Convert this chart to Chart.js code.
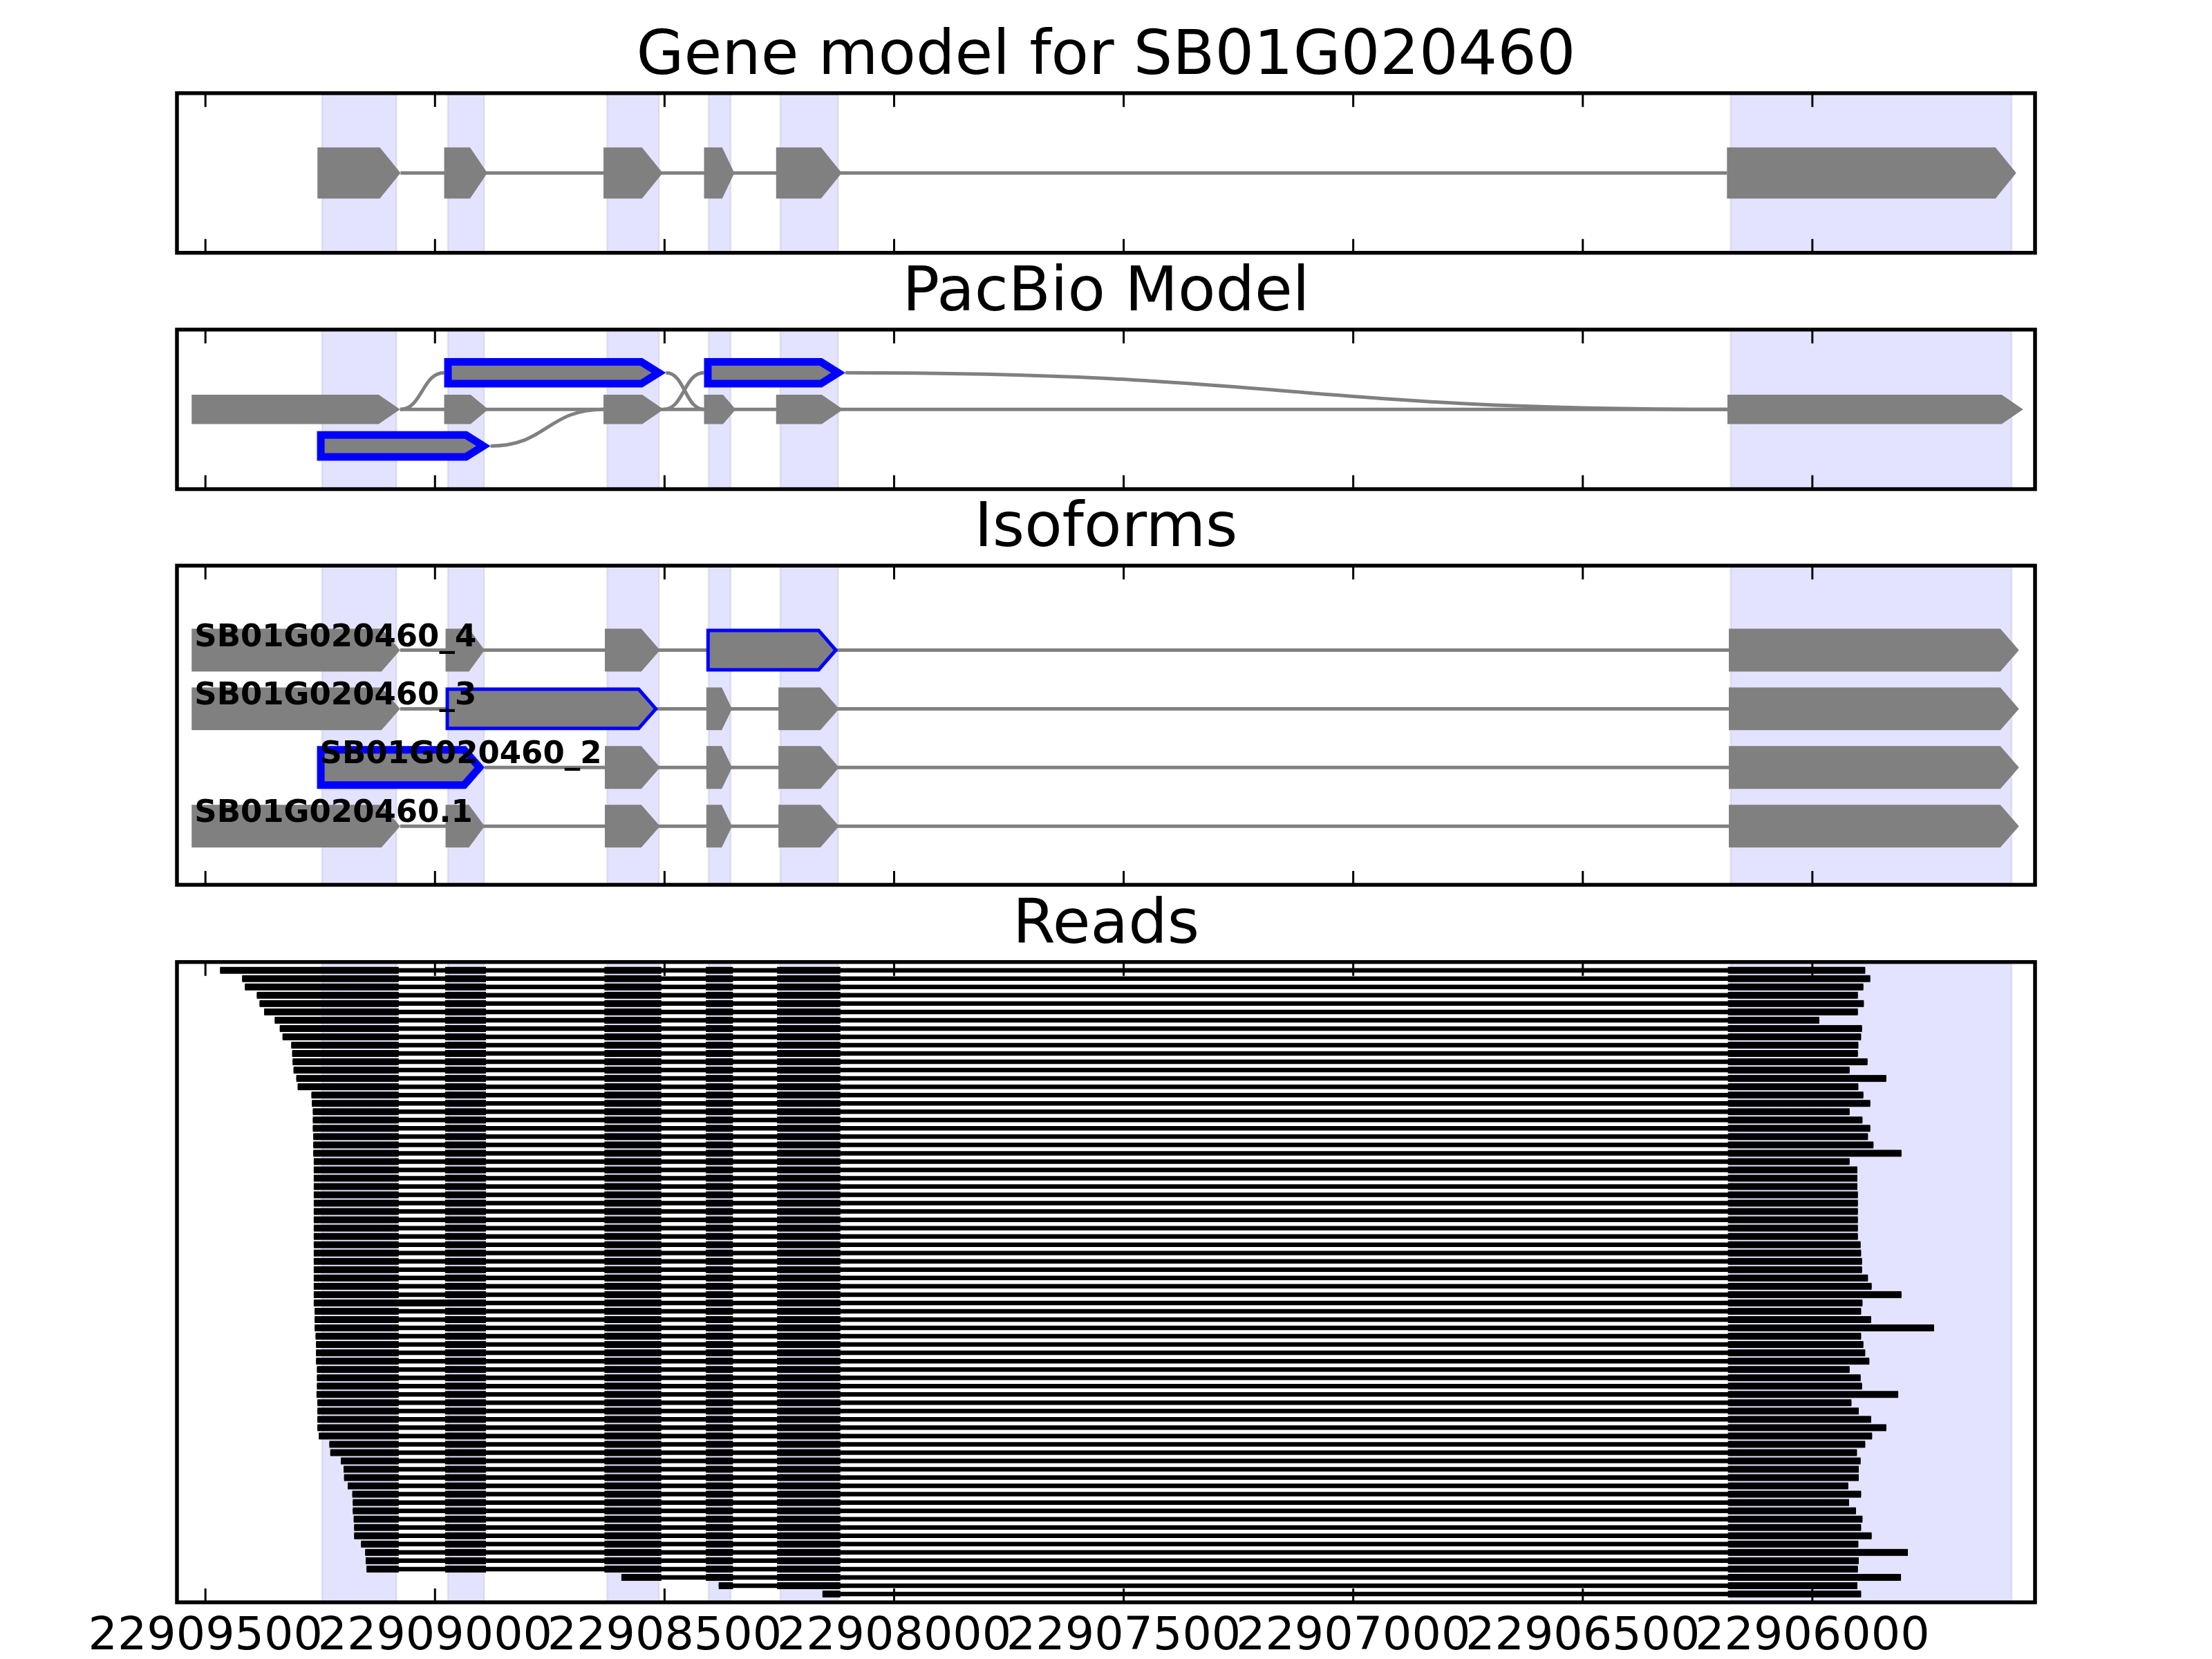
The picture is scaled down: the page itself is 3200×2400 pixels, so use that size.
<!DOCTYPE html>
<html>
<head>
<meta charset="utf-8">
<script src="https://cdn.jsdelivr.net/npm/chart.js@4.4.0/dist/chart.umd.min.js"></script>
<style>
  html, body { margin: 0; padding: 0; background: #fff; }
  #wrap { position: relative; width: 3200px; height: 2400px; }
  #wrap canvas { position: absolute; left: 0; top: 0; }
</style>
</head>
<body>
<div id="wrap">
  <canvas id="gene" width="3200" height="2400"></canvas>
  <canvas id="pacbio" width="3200" height="2400"></canvas>
  <canvas id="iso" width="3200" height="2400"></canvas>
  <canvas id="reads" width="3200" height="2400"></canvas>
</div>
<script>
// genomic window (minus strand, so the axis runs right to left)
const xMin = 22905515;
const xMax = 22909562;
const tickValues = [22909500, 22909000, 22908500, 22908000, 22907500, 22907000, 22906500, 22906000];

// exons of the reference gene, used for the shaded columns
const exonBands = [[22909246, 22909084], [22908972, 22908893], [22908625, 22908512],
                   [22908404, 22908356], [22908248, 22908122], [22906178, 22905566]];

// gene model
const geneExons = [[22909256, 22909075], [22908980, 22908886], [22908633, 22908504],
                   [22908414, 22908348], [22908257, 22908114], [22906186, 22905556]];

// PacBio model, rows: 1 top, 0 middle, -1 bottom
const pbMiddle = [[22909530, 22909076], [22908980, 22908884], [22908633, 22908502],
                  [22908414, 22908345], [22908257, 22908111], [22906185, 22905541]];
const pbTop = [[22908980, 22908497], [22908414, 22908106]];
const pbBottom = [[22909257, 22908879]];
// joins between rows: from bp, from row, to bp, to row
const pbJoins = [
  [22909076, 0, 22908980, 1],
  [22908497, 1, 22908414, 0],
  [22908502, 0, 22908414, 1],
  [22908879, -1, 22908633, 0],
  [22908106, 1, 22906185, 0]
];

// isoforms
const isoNames = ['SB01G020460_4', 'SB01G020460_3', 'SB01G020460_2', 'SB01G020460.1'];
const isoRows = [4, 3, 2, 1];
const isoExons = [
  [[22909530, 22909076], [22908977, 22908892], [22908630, 22908510], [22908409, 22908122], [22906182, 22905550]],
  [[22909530, 22909076], [22908977, 22908514], [22908409, 22908353], [22908252, 22908120], [22906182, 22905550]],
  [[22909257, 22908892], [22908630, 22908510], [22908409, 22908353], [22908252, 22908120], [22906182, 22905550]],
  [[22909530, 22909076], [22908977, 22908892], [22908630, 22908510], [22908409, 22908353], [22908252, 22908120], [22906182, 22905550]]
];
const isoNovel = [3, 1, 0, -1];      // exon drawn with a blue outline
const isoNovelWidth = [5, 5, 11, 0];

// reads: exon blocks, then start / end of every read, top to bottom
const readExons = [[22909246, 22909079], [22908978, 22908889], [22908631, 22908507],
                   [22908410, 22908351], [22908255, 22908117], [22906184, 22905566]];
const readStarts = [
  22909468, 22909420, 22909414, 22909388, 22909382, 22909372, 22909349, 22909338, 22909332, 22909313,
  22909311, 22909310, 22909308, 22909302, 22909299, 22909269, 22909268, 22909266, 22909266, 22909266,
  22909265, 22909265, 22909265, 22909264, 22909264, 22909264, 22909264, 22909264, 22909264, 22909264,
  22909264, 22909264, 22909264, 22909264, 22909264, 22909264, 22909264, 22909264, 22909264, 22909264,
  22909264, 22909262, 22909262, 22909262, 22909260, 22909259, 22909259, 22909259, 22909257, 22909257,
  22909257, 22909258, 22909256, 22909256, 22909256, 22909256, 22909253, 22909230, 22909228, 22909205,
  22909199, 22909198, 22909190, 22909180, 22909179, 22909179, 22909177, 22909176, 22909176, 22909161,
  22909152, 22909151, 22909149, 22908594, 22908382, 22908156
];
const readEnds = [
  22905885, 22905874, 22905889, 22905901, 22905888, 22905901, 22905985, 22905892, 22905894, 22905900,
  22905901, 22905880, 22905919, 22905839, 22905900, 22905889, 22905874, 22905919, 22905891, 22905874,
  22905879, 22905867, 22905806, 22905919, 22905902, 22905902, 22905902, 22905901, 22905901, 22905901,
  22905901, 22905901, 22905901, 22905895, 22905894, 22905892, 22905892, 22905879, 22905871, 22905806,
  22905891, 22905894, 22905872, 22905735, 22905894, 22905889, 22905885, 22905876, 22905919, 22905895,
  22905892, 22905813, 22905915, 22905899, 22905872, 22905839, 22905870, 22905885, 22905903, 22905895,
  22905899, 22905899, 22905922, 22905894, 22905920, 22905905, 22905891, 22905894, 22905871, 22905900,
  22905792, 22905899, 22905901, 22905807, 22905902, 22905894
];
const retainedRows = [41];      // reads keeping an intron
const retainedIntron = [1];     // intron after exon 1

const FONT = "'DejaVu Sans'";
const GREY = '#808080';
const BLUE = '#0000ff';

function arrow(ctx, xl, xr, yc, h, head, lw) {
  head = Math.min(head, 0.4 * (xr - xl));
  if (lw) {
    // keep the outside of the outline on the exon edges
    const a = Math.atan2(h, head);
    xl += lw / 2;
    xr -= (lw / 2) / Math.sin(a);
    const h2 = h - lw / 2;
    head = head * h2 / h;
    h = h2;
  }
  ctx.beginPath();
  ctx.moveTo(xl, yc - h);
  ctx.lineTo(xr - head, yc - h);
  ctx.lineTo(xr, yc);
  ctx.lineTo(xr - head, yc + h);
  ctx.lineTo(xl, yc + h);
  ctx.closePath();
  ctx.fillStyle = GREY;
  ctx.fill();
  if (lw) {
    ctx.lineJoin = 'miter';
    ctx.miterLimit = 10;
    ctx.lineWidth = lw;
    ctx.strokeStyle = BLUE;
    ctx.stroke();
  }
}

function hline(ctx, x1, x2, y, lw, color) {
  ctx.beginPath();
  ctx.moveTo(x1, y);
  ctx.lineTo(x2, y);
  ctx.lineWidth = lw;
  ctx.strokeStyle = color;
  ctx.lineCap = 'butt';
  ctx.stroke();
}

function drawBands(c) {
  const ctx = c.ctx, x = c.scales.x, a = c.chartArea;
  ctx.save();
  exonBands.forEach(b => {
    const x1 = x.getPixelForValue(b[0]), x2 = x.getPixelForValue(b[1]);
    ctx.fillStyle = 'rgba(0,0,255,0.11)';
    ctx.fillRect(x1, a.top, x2 - x1, a.bottom - a.top);
    ctx.strokeStyle = 'rgba(0,0,90,0.07)';
    ctx.lineWidth = 3;
    ctx.strokeRect(x1, a.top, x2 - x1, a.bottom - a.top);
  });
  ctx.restore();
}

function drawFrame(c) {
  const ctx = c.ctx, x = c.scales.x, a = c.chartArea;
  ctx.save();
  ctx.strokeStyle = '#000';
  ctx.lineWidth = 3;
  tickValues.forEach(v => {
    const px = x.getPixelForValue(v);
    ctx.beginPath();
    ctx.moveTo(px, a.top); ctx.lineTo(px, a.top + 20);
    ctx.moveTo(px, a.bottom); ctx.lineTo(px, a.bottom - 20);
    ctx.stroke();
  });
  ctx.lineWidth = 5.5;
  ctx.strokeRect(a.left, a.top, a.right - a.left, a.bottom - a.top);
  ctx.restore();
}

function drawGene(c) {
  const ctx = c.ctx, x = c.scales.x, y = c.scales.y;
  const yc = y.getPixelForValue(0);
  hline(ctx, x.getPixelForValue(geneExons[0][1]), x.getPixelForValue(geneExons[geneExons.length - 1][0]), yc, 5, GREY);
  geneExons.forEach(e => arrow(ctx, x.getPixelForValue(e[0]), x.getPixelForValue(e[1]), yc, 37, 30, 0));
}

function drawPacbio(c) {
  const ctx = c.ctx, x = c.scales.x, y = c.scales.y;
  const ym = y.getPixelForValue(0);
  hline(ctx, x.getPixelForValue(pbMiddle[0][1]), x.getPixelForValue(pbMiddle[pbMiddle.length - 1][0]), ym, 5, GREY);
  ctx.beginPath();
  pbJoins.forEach(j => {
    const x1 = x.getPixelForValue(j[0]), y1 = y.getPixelForValue(j[1]);
    const x2 = x.getPixelForValue(j[2]), y2 = y.getPixelForValue(j[3]);
    const xm = (x1 + x2) / 2;
    ctx.moveTo(x1, y1);
    ctx.bezierCurveTo(xm, y1, xm, y2, x2, y2);
  });
  ctx.lineWidth = 5;
  ctx.strokeStyle = GREY;
  ctx.stroke();
  pbMiddle.forEach(e => arrow(ctx, x.getPixelForValue(e[0]), x.getPixelForValue(e[1]), ym, 21.3, 31, 0));
  pbTop.forEach(e => arrow(ctx, x.getPixelForValue(e[0]), x.getPixelForValue(e[1]), y.getPixelForValue(1), 21.3, 34, 11));
  pbBottom.forEach(e => arrow(ctx, x.getPixelForValue(e[0]), x.getPixelForValue(e[1]), y.getPixelForValue(-1), 21.3, 34, 11));
}

function drawIso(c) {
  const ctx = c.ctx, x = c.scales.x, y = c.scales.y;
  isoExons.forEach((ex, i) => {
    const yc = y.getPixelForValue(isoRows[i]);
    hline(ctx, x.getPixelForValue(ex[0][1]), x.getPixelForValue(ex[ex.length - 1][0]), yc, 5, GREY);
    ex.forEach((e, k) => {
      const lw = k === isoNovel[i] ? isoNovelWidth[i] : 0;
      arrow(ctx, x.getPixelForValue(e[0]), x.getPixelForValue(e[1]), yc, 30.9, 27, lw);
    });
  });
  ctx.save();
  ctx.font = 'bold 45px ' + FONT;
  ctx.fillStyle = '#000';
  ctx.textAlign = 'left';
  ctx.textBaseline = 'alphabetic';
  isoNames.forEach((n, i) => {
    ctx.fillText(n, x.getPixelForValue(isoExons[i][0][0]) + 4, y.getPixelForValue(isoRows[i]) - 6);
  });
  ctx.restore();
}

function readBlocks(r) {
  const s = readStarts[r], t = readEnds[r];
  let ex = readExons.map(e => [e[0], e[1]]);
  const k = retainedRows.indexOf(r + 1);
  if (k >= 0) {
    const j = retainedIntron[k];
    ex.splice(j - 1, 2, [ex[j - 1][0], ex[j][1]]);
  }
  const bl = ex.filter(e => e[1] < s && e[0] > t);
  bl[0][0] = s;
  bl[bl.length - 1][1] = t;
  return bl;
}

function drawReads(c) {
  const ctx = c.ctx, x = c.scales.x, y = c.scales.y;
  readStarts.forEach((s, r) => {
    const yc = y.getPixelForValue(r + 1);
    hline(ctx, x.getPixelForValue(s), x.getPixelForValue(readEnds[r]), yc, 6.5, '#000');
    ctx.fillStyle = '#000';
    readBlocks(r).forEach(b => {
      const x1 = x.getPixelForValue(b[0]), x2 = x.getPixelForValue(b[1]);
      ctx.fillRect(x1, yc - 5, x2 - x1, 10);
    });
  });
}

function panel(id, title, yMin, yMax, yRev, frameTop, frameBottom, showLabels, drawFn) {
  const titleLH = 1.06;
  const titleBox = 89 * titleLH + 4;
  const axisH = showLabels ? 84 : 0;
  return new Chart(document.getElementById(id), {
    type: 'scatter',
    data: { datasets: [] },
    options: {
      responsive: false,
      animation: false,
      events: [],
      layout: { padding: { left: 256, right: 256, top: frameTop - titleBox, bottom: 2400 - frameBottom - axisH } },
      plugins: {
        legend: { display: false },
        tooltip: { enabled: false },
        title: {
          display: true, text: title, color: '#000',
          font: { family: FONT, size: 89, weight: 'normal', lineHeight: titleLH },
          padding: { top: 0, bottom: 4 }
        }
      },
      scales: {
        x: {
          type: 'linear', min: xMin, max: xMax, reverse: true, display: showLabels,
          afterBuildTicks: s => { s.ticks = tickValues.map(v => ({ value: v })); },
          afterFit: s => { if (showLabels) s.height = axisH; },
          grid: { display: false, drawTicks: false },
          border: { display: false },
          ticks: {
            autoSkip: false, maxRotation: 0, minRotation: 0, padding: 11, color: '#000',
            font: { family: FONT, size: 66.7 },
            callback: v => String(v)
          }
        },
        y: { type: 'linear', min: yMin, max: yMax, reverse: yRev, display: false }
      }
    },
    plugins: [{
      id: 'draw_' + id,
      afterDraw: c => { drawBands(c); drawFn(c); drawFrame(c); }
    }]
  });
}

panel('gene', 'Gene model for SB01G020460', -1, 1, false, 134.8, 365.7, false, drawGene);
panel('pacbio', 'PacBio Model', -2.18, 2.18, false, 476.8, 707.6, false, drawPacbio);
panel('iso', 'Isoforms', 0, 5.44, false, 818.3, 1280, false, drawIso);
panel('reads', 'Reads', 0, 77, true, 1391.7, 2318, true, drawReads);
</script>
</body>
</html>
